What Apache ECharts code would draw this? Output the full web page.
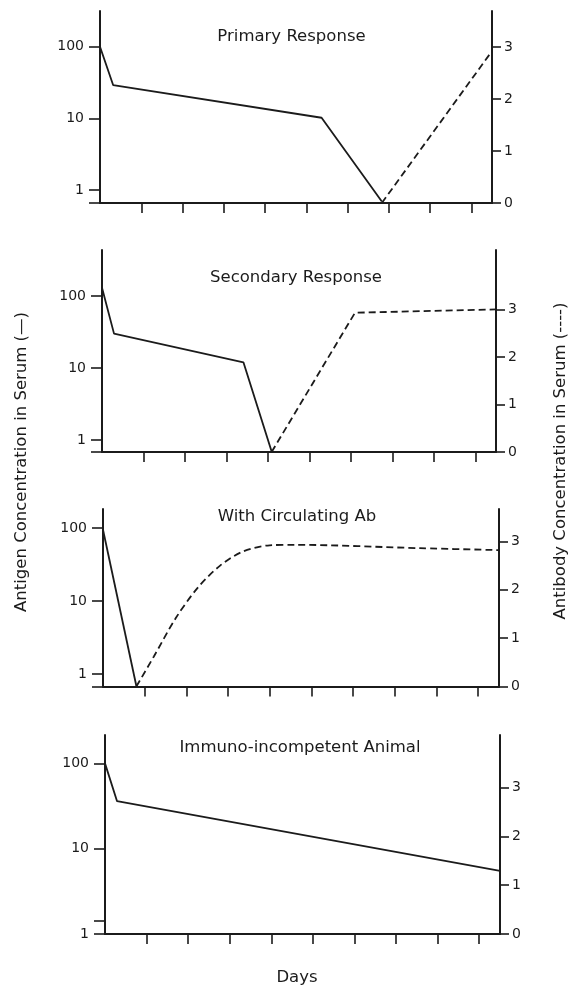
<!DOCTYPE html>
<html><head><meta charset="utf-8">
<script src="https://cdn.jsdelivr.net/npm/echarts@6/dist/echarts.min.js"></script>
<style>html,body{margin:0;padding:0;background:#fff}#c{width:574px;height:992px}</style>
</head><body><div id="c"></div>
<script>
// ---- data ----
const panelTitles = ['Primary Response', 'Secondary Response', 'With Circulating Ab', 'Immuno-incompetent Animal'];
const dayTicks = [1, 2, 3, 4, 5, 6, 7, 8, 9];
const antigenTickLabels = [1, 10, 100];
const antibodyTickLabels = [0, 1, 2, 3];
const leftAxisName = 'Antigen Concentration in Serum (\u2014)';
const rightAxisName = 'Antibody Concentration in Serum (----)';
const xAxisName = 'Days';

// [day, antigen concentration] (solid line, log scale)
const primaryAntigen = [[0, 100], [0.32, 29], [5.37, 10.2], [6.83, 0.69]];
const secondaryAntigen = [[0, 130], [0.29, 30], [3.41, 12], [4.09, 0.69]];
const circulatingAntigen = [[0, 95], [0.8, 0.69]];
const incompetentAntigen = [[0, 100], [0.29, 36], [9.5, 5.5]];

// [day, antibody concentration] (dashed line, linear scale)
const primaryAntibody = [[6.83, 0], [9.5, 2.92]];
const secondaryAntibody = [[4.09, 0], [6.1, 2.93], [9.5, 3.0]];
const circulatingAntibody = [[0.8, 0], [1.22, 0.62], [1.75, 1.42], [2.28, 2.05], [2.81, 2.5], [3.33, 2.78], [4.0, 2.92], [4.6, 2.93], [7.6, 2.86], [9.5, 2.82]];
const incompetentAntibody = null;

// stray tick on the last panel's antigen axis
const incompetentExtraTick = 1.42;

// ---- layout (positions / axis extents) ----
const layouts = [
  {left: 100, top: 11, width: 392, height: 192, agMin: 0.659, agMax: 315, abMax: 3.69},
  {left: 102, top: 250, width: 394, height: 202, agMin: 0.681, agMax: 435, abMax: 4.25},
  {left: 103, top: 509, width: 396, height: 177.5, agMin: 0.678, agMax: 183, abMax: 3.67},
  {left: 105, top: 735, width: 395, height: 199, agMin: 1, agMax: 215, abMax: 4.08}
];
const antigenSets = [primaryAntigen, secondaryAntigen, circulatingAntigen, incompetentAntigen];
const antibodySets = [primaryAntibody, secondaryAntibody, circulatingAntibody, incompetentAntibody];
const titleCenters = [[291.5, 37], [296, 278], [297, 517], [300, 748]];

const INK = '#1b1b1b';
const FONT = 'DejaVu Sans';

const grid = [], xAxis = [], yAxis = [], series = [], graphic = [];
layouts.forEach((L, i) => {
  grid.push({left: L.left, top: L.top, width: L.width, height: L.height});
  xAxis.push({
    type: 'value', gridIndex: i, min: 0, max: 9.5,
    axisLine: {show: true, onZero: false, lineStyle: {color: INK, width: 2}},
    axisTick: {show: true, customValues: dayTicks, length: 10, lineStyle: {color: INK, width: 1.6}},
    axisLabel: {show: false}, splitLine: {show: false}
  });
  const agTicks = i === 3 ? [1, incompetentExtraTick, 10, 100] : [L.agMin, 1, 10, 100];
  yAxis.push({
    type: 'log', logBase: 10, gridIndex: i, position: 'left', min: L.agMin, max: L.agMax,
    axisLine: {show: true, onZero: false, lineStyle: {color: INK, width: 2}},
    axisTick: {show: true, customValues: agTicks, length: 11, lineStyle: {color: INK, width: 1.6}},
    axisLabel: {show: true, customValues: antigenTickLabels, margin: 16, fontSize: 14, color: INK, fontFamily: FONT,
      formatter: v => String(Math.round(v))},
    splitLine: {show: false}, minorTick: {show: false}
  });
  yAxis.push({
    type: 'value', gridIndex: i, position: 'right', min: 0, max: L.abMax,
    axisLine: {show: true, onZero: false, lineStyle: {color: INK, width: 2}},
    axisTick: {show: true, customValues: antibodyTickLabels, length: 9, lineStyle: {color: INK, width: 1.6}},
    axisLabel: {show: true, customValues: antibodyTickLabels, margin: 12, fontSize: 14, color: INK, fontFamily: FONT},
    splitLine: {show: false}
  });
  series.push({
    type: 'line', xAxisIndex: i, yAxisIndex: 2 * i, data: antigenSets[i], symbol: 'none',
    lineStyle: {color: INK, width: 1.8, type: 'solid'}, z: 5, animation: false
  });
  if (antibodySets[i]) {
    series.push({
      type: 'line', xAxisIndex: i, yAxisIndex: 2 * i + 1, data: antibodySets[i], symbol: 'none',
      smooth: i === 2 ? 0.3 : false,
      lineStyle: {color: INK, width: 1.8, type: [7, 4]}, z: 5, animation: false
    });
  }
  graphic.push({
    type: 'text', x: titleCenters[i][0], y: titleCenters[i][1],
    style: {text: panelTitles[i], fontSize: 16.5, fontFamily: FONT, fill: INK, align: 'center', verticalAlign: 'middle'}
  });
});

graphic.push({
  type: 'text', x: 22, y: 462, rotation: Math.PI / 2,
  style: {text: leftAxisName, fontSize: 16.5, fontFamily: FONT, fill: INK, align: 'center', verticalAlign: 'middle'}
});
graphic.push({
  type: 'text', x: 561, y: 461, rotation: Math.PI / 2,
  style: {text: rightAxisName, fontSize: 16.5, fontFamily: FONT, fill: INK, align: 'center', verticalAlign: 'middle'}
});
graphic.push({
  type: 'text', x: 297, y: 978,
  style: {text: xAxisName, fontSize: 16.5, fontFamily: FONT, fill: INK, align: 'center', verticalAlign: 'middle'}
});

const chart = echarts.init(document.getElementById('c'), null, {renderer: 'canvas'});
chart.setOption({
  backgroundColor: '#ffffff',
  animation: false,
  textStyle: {fontFamily: FONT},
  grid, xAxis, yAxis, series, graphic
});
</script>
</body></html>
